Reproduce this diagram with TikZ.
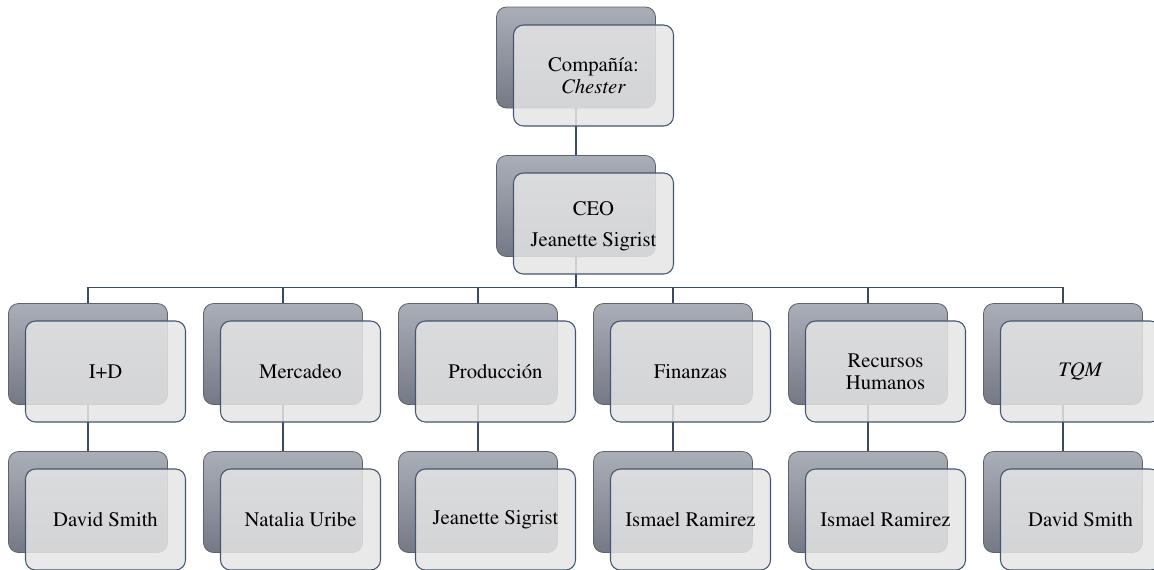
\documentclass[tikz,border=0pt]{standalone}
\usepackage[T1]{fontenc}
\renewcommand{\rmdefault}{ptm}
\definecolor{backtop}{RGB}{170,174,183}
\definecolor{backbot}{RGB}{116,121,134}
\definecolor{backline}{RGB}{96,98,104}
\definecolor{frontfill}{RGB}{229,229,229}
\definecolor{frontline}{RGB}{68,86,112}
\definecolor{conn}{RGB}{58,74,96}
\tikzset{
  labeltext/.style={align=center, inner sep=0pt, font=\rmfamily\fontsize{15.5}{16.5}\selectfont},
  backbox/.style={rectangle, rounded corners=7.5pt, draw=backline, line width=0.6pt,
    top color=backtop, bottom color=backbot, minimum width=119.25pt, minimum height=75.75pt, inner sep=0pt},
  frontbox/.style={rectangle, rounded corners=7.5pt, draw=frontline, line width=0.8pt,
    fill=frontfill, fill opacity=0.85, text opacity=1, minimum width=120pt, minimum height=75.75pt,
    labeltext},
  connector/.style={draw=conn, line width=1.4pt}
}
\begin{document}
\begin{tikzpicture}[x=0.75pt,y=-0.75pt]
\useasboundingbox (0,0) rectangle (1154,569);
% back boxes
\node[backbox] (b0) at (576,57.5) {};
\node[backbox] (b1) at (576,206) {};
\foreach \i in {1,...,6} {
  \node[backbox] (d\i) at ({88+195*(\i-1)},354) {};
  \node[backbox] (p\i) at ({88+195*(\i-1)},502) {};
}
% connectors
\coordinate (bus) at (576,287.5);
\draw[connector] (b0.south) -- (b1.north);
\draw[connector] (b1.south) -- (bus);
\foreach \i in {1,...,6} {
  \draw[connector] (bus) -| (d\i.north);
  \draw[connector] (d\i.south) -- (p\i.north);
}
% front boxes
\node[frontbox] (f0) at (593.5,75.5) {Compañía:\\\textit{Chester}};
\node[frontbox] (f1) at (593.5,223.5) {};
\node[labeltext] (f1t) at ([yshift=-1.9pt]f1.center) {CEO\\[7pt]Jeanette Sigrist};
\node[frontbox] (g1) at (105.5,371.5) {I+D};
\node[frontbox] (g2) at (300.5,371.5) {Mercadeo};
\node[frontbox] (g3) at (495.5,371.5) {Producción};
\node[frontbox] (g4) at (690.5,371.5) {Finanzas};
\node[frontbox] (g5) at (885.5,371.5) {Recursos\\Humanos};
\node[frontbox] (g6) at (1080.5,371.5) {\textit{TQM}};
\node[frontbox] (h1) at (105.5,519.5) {David Smith};
\node[frontbox] (h2) at (300.5,519.5) {Natalia Uribe};
\node[frontbox] (h3) at (495.5,519.5) {Jeanette Sigrist};
\node[frontbox] (h4) at (690.5,519.5) {Ismael Ramirez};
\node[frontbox] (h5) at (885.5,519.5) {Ismael Ramirez};
\node[frontbox] (h6) at (1080.5,519.5) {David Smith};
\end{tikzpicture}
\end{document}
